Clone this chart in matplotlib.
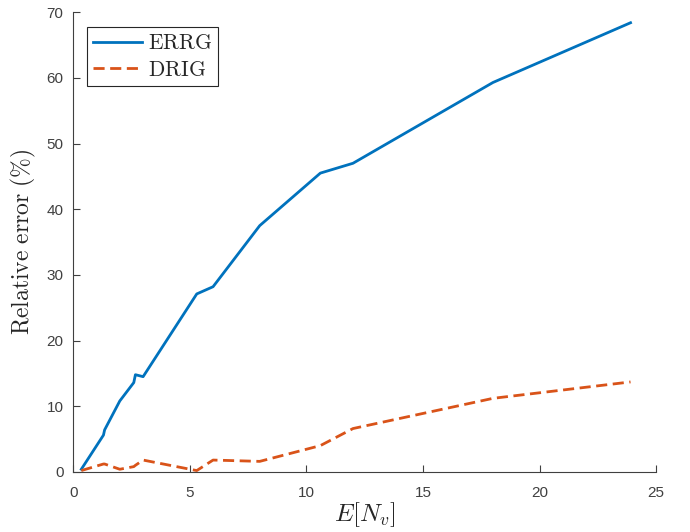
import numpy as np
import matplotlib.pyplot as plt

plt.rcParams['mathtext.fontset'] = 'cm'

x = [0.35, 1.3, 1.35, 2.0, 2.6, 2.67, 3.0, 5.3, 6.0, 8.0, 10.6, 12.0, 18.0, 23.9]
errg = [0.4, 5.6, 6.4, 10.8, 13.6, 14.8, 14.5, 27.1, 28.2, 37.5, 45.5, 47.0, 59.3, 68.4]
drig = [0.2, 1.2, 1.2, 0.4, 0.8, 1.0, 1.8, 0.2, 1.8, 1.6, 4.0, 6.6, 11.2, 13.7]

fig = plt.figure(figsize=(6.9, 5.32), dpi=100)
ax = fig.add_axes([0.106, 0.113, 0.845, 0.864])

ax.plot(x, errg, '-', color='#0072BD', lw=2, label='ERRG')
ax.plot(x, drig, '--', color='#D95319', lw=2, dashes=(4, 2), label='DRIG')

ax.set_xlim(0, 25)
ax.set_ylim(0, 70)
ax.set_xticks(np.arange(0, 26, 5))
ax.set_yticks(np.arange(0, 71, 10))
for s in ['top', 'right']:
    ax.spines[s].set_visible(False)
for s in ['left', 'bottom']:
    ax.spines[s].set_color('#404040')
    ax.spines[s].set_linewidth(0.8)
ax.tick_params(direction='in', length=5, width=0.8, colors='#404040',
               labelsize=11, pad=7)
ax.tick_params(axis='x', pad=10)
for lab in ax.get_xticklabels() + ax.get_yticklabels():
    lab.set_family('Liberation Sans')

ax.set_xlabel(r'$E[N_v]$', fontsize=18, color='#262626', labelpad=0)
ax.set_ylabel(r'$\mathrm{Relative\ error\ (\%)}$', fontsize=17, color='#262626', labelpad=6)

leg = ax.legend(loc='upper left', bbox_to_anchor=(0.024, 0.968), fancybox=False,
                edgecolor='#262626', framealpha=1, prop={'family': 'serif', 'size': 15.5},
                handlelength=2.3, borderpad=0.25, labelspacing=0.2, handletextpad=0.3,
                borderaxespad=0)
leg.get_frame().set_linewidth(0.8)
for t in leg.get_texts():
    t.set_text(r'$\mathrm{' + t.get_text() + '}$')
    t.set_color('#262626')

fig.savefig('out.png', dpi=100)
